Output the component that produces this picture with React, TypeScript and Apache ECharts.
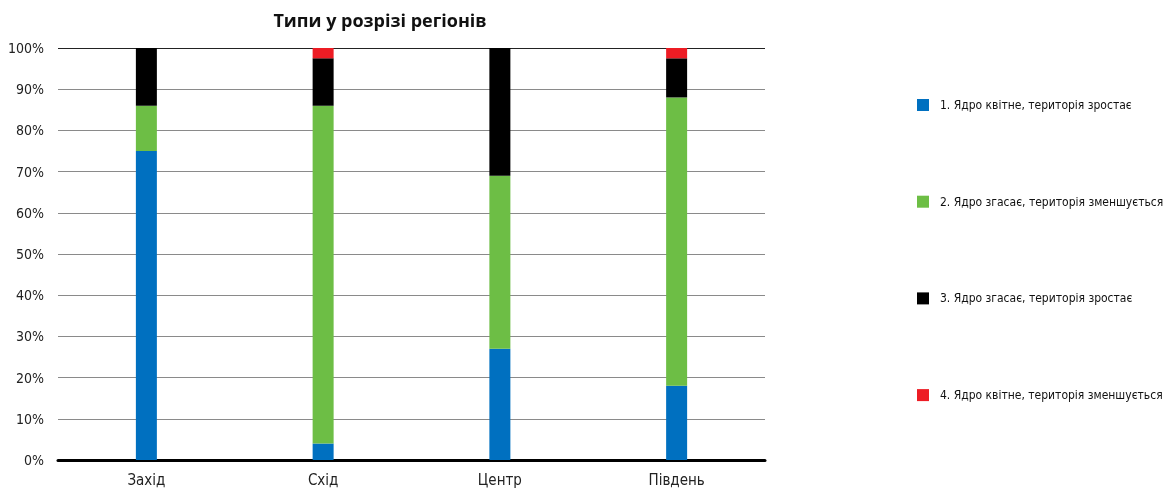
import React, { useEffect, useRef } from "react";
import * as echarts from "echarts";

const categories = ["Захід", "Схід", "Центр", "Південь"];
const seriesNames = [
  "1. Ядро квітне, територія зростає",
  "2. Ядро згасає, територія зменшується",
  "3. Ядро згасає, територія зростає",
  "4. Ядро квітне, територія зменшується",
];
const type1 = [75, 4, 27, 18];
const type2 = [11, 82, 42, 70];
const type3 = [14, 11.5, 31, 9.5];
const type4 = [0, 2.5, 0, 2.5];
const colors = ["#0070C0", "#6DBE45", "#000000", "#ED1C24"];
const FONT = "'DejaVu Sans Condensed', sans-serif";
const gridColors = ["#8a8a8a", "#8a8a8a", "#8a8a8a", "#8a8a8a", "#8a8a8a", "#8a8a8a", "#8a8a8a", "#8a8a8a", "#8a8a8a", "#8a8a8a", "#222222"];

export default function App() {
  const ref = useRef<HTMLDivElement>(null);
  useEffect(() => {
    const chart = echarts.init(ref.current!, null, { renderer: "svg" });
    const data = [type1, type2, type3, type4];
    chart.setOption({
      animation: false,
      title: {
        text: "Типи у розрізі регіонів",
        left: 375,
        textAlign: "center",
        top: 6,
        textStyle: { fontFamily: "'Open Sans', sans-serif", fontSize: 18, fontWeight: "bold", color: "#111" },
      },
      legend: {
        orient: "vertical",
        left: 912,
        top: 94,
        itemWidth: 12,
        itemHeight: 12,
        itemGap: 84.7,
        icon: "rect",
        textStyle: { fontFamily: FONT, fontSize: 12, lineHeight: 12, color: "#111", padding: [0, 0, 0, 6] },
        data: seriesNames,
      },
      grid: { left: 58, right: 403, top: 48, bottom: 35 },
      xAxis: {
        type: "category",
        data: categories,
        axisLine: { lineStyle: { color: "#000", width: 3 } },
        axisTick: { show: false },
        axisLabel: { fontFamily: FONT, fontSize: 15, color: "#222", margin: 12 },
      },
      yAxis: {
        type: "value",
        min: 0,
        max: 100,
        interval: 10,
        axisLine: { show: false },
        axisTick: { show: false },
        axisLabel: {
          formatter: "{value}%",
          fontFamily: FONT,
          fontSize: 14,
          color: "#222",
          margin: 14,
        },
        splitLine: { lineStyle: { color: gridColors, width: 1 } },
      },
      series: seriesNames.map((name, i) => ({
        name,
        type: "bar",
        stack: "total",
        barWidth: 21,
        itemStyle: { color: colors[i] },
        data: data[i],
      })),
    });
    return () => chart.dispose();
  }, []);
  return <div ref={ref} style={{ position: "fixed", left: 0, top: 0, width: 1168, height: 495 }} />;
}
